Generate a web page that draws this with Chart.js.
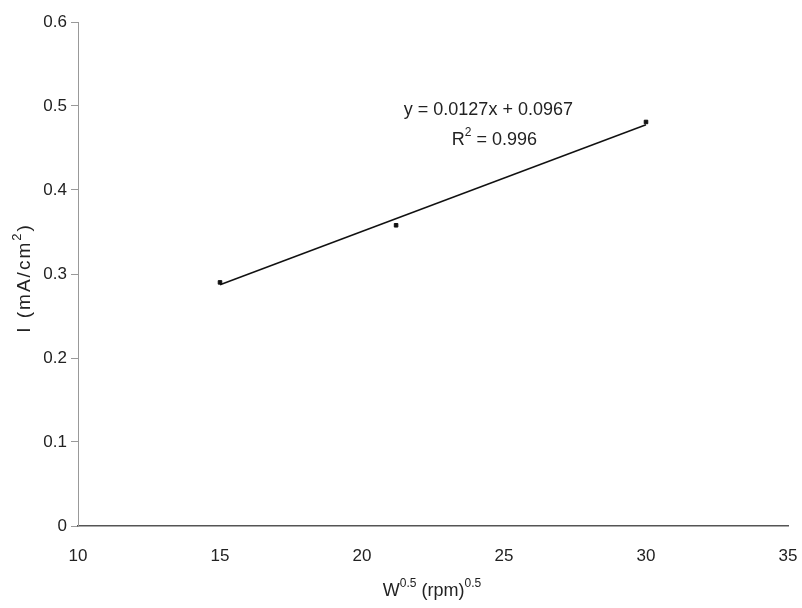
<!DOCTYPE html>
<html>
<head>
<meta charset="utf-8">
<script src="https://cdn.jsdelivr.net/npm/chart.js@4/dist/chart.umd.min.js"></script>
<style>
  html, body { margin: 0; padding: 0; background: #fff; }
  #wrap { width: 802px; height: 608px; position: relative; }
</style>
</head>
<body>
<div id="wrap"><canvas id="chart"></canvas></div>
<script>
// data
const rotSpeed = [15, 21.2, 30];          // W^0.5 (rpm)^0.5
const currentI = [0.29, 0.358, 0.481];    // I (mA/cm2)
const trendX = [15, 30];                  // ends of the linear fit
const trendY = [0.2872, 0.4777];
const xTickValues = [10, 15, 20, 25, 30, 35];
const yTickValues = [0, 0.1, 0.2, 0.3, 0.4, 0.5, 0.6];

const fitText = [
  [{ t: 'y = 0.0127x + 0.0967' }],
  [{ t: 'R' }, { t: '2', sup: true }, { t: ' = 0.996' }]
];
const xTitle = [{ t: 'W' }, { t: '0.5', sup: true }, { t: ' (rpm)' }, { t: '0.5', sup: true }];
const yTitle = [{ t: 'I (mA/cm' }, { t: '2', sup: true }, { t: ')' }];

const FONT = '"Liberation Sans", Arial, sans-serif';
const TEXT = '#222';

// draws text with superscripts, centred on (x, y)
function drawRich(ctx, parts, x, y, size, spacing) {
  const supSize = Math.round(size * 0.66);
  ctx.letterSpacing = (spacing || 0) + 'px';
  let total = 0;
  parts.forEach(p => {
    ctx.font = (p.sup ? supSize : size) + 'px ' + FONT;
    p.w = ctx.measureText(p.t).width;
    total += p.w;
  });
  let cx = x - total / 2;
  ctx.textAlign = 'left';
  ctx.textBaseline = 'middle';
  parts.forEach(p => {
    ctx.font = (p.sup ? supSize : size) + 'px ' + FONT;
    ctx.fillText(p.t, cx, p.sup ? y - size * 0.38 : y);
    cx += p.w;
  });
  ctx.letterSpacing = '0px';
}

const textPlugin = {
  id: 'textPlugin',
  afterDraw(chart) {
    const ctx = chart.ctx;
    const xs = chart.scales.x, ys = chart.scales.y;
    ctx.save();
    ctx.fillStyle = TEXT;
    // fit equation
    const ex = xs.getPixelForValue(24.45);
    drawRich(ctx, fitText[0], ex, ys.getPixelForValue(0.495), 18);
    drawRich(ctx, fitText[1], ex + 6, ys.getPixelForValue(0.46), 18);
    // x title
    drawRich(ctx, xTitle, 432, 591, 18);
    // y title
    ctx.save();
    ctx.translate(25, 278);
    ctx.rotate(-Math.PI / 2);
    drawRich(ctx, yTitle, 0, 0, 19, 2);
    ctx.restore();
    ctx.restore();
  }
};

new Chart(document.getElementById('chart'), {
  type: 'scatter',
  data: {
    datasets: [
      {
        label: 'trend',
        data: trendX.map((x, i) => ({ x: x, y: trendY[i] })),
        showLine: true,
        borderColor: '#111',
        borderWidth: 1.5,
        pointRadius: 0
      },
      {
        label: 'I',
        data: rotSpeed.map((x, i) => ({ x: x, y: currentI[i] })),
        backgroundColor: '#111',
        borderColor: '#111',
        pointRadius: 2.5,
        pointStyle: 'rect'
      }
    ]
  },
  options: {
    responsive: true,
    maintainAspectRatio: false,
    animation: false,
    layout: { padding: { left: 0, right: 14, top: 22, bottom: 0 } },
    plugins: {
      legend: { display: false },
      tooltip: { enabled: false }
    },
    scales: {
      x: {
        type: 'linear',
        min: 10,
        max: 35,
        afterBuildTicks: s => { s.ticks = xTickValues.map(v => ({ value: v })); },
        afterFit: s => { s.height = 82; s.paddingLeft = 0; s.paddingRight = 0; },
        grid: { display: false, drawTicks: false },
        border: { display: true, color: '#555', width: 1.5 },
        ticks: {
          padding: 20,
          maxRotation: 0,
          autoSkip: false,
          color: TEXT,
          font: { family: FONT, size: 17 }
        }
      },
      y: {
        min: 0,
        max: 0.6,
        afterBuildTicks: s => { s.ticks = yTickValues.map(v => ({ value: v })); },
        afterFit: s => { s.width = 78; s.paddingTop = 0; s.paddingBottom = 0; },
        grid: { drawOnChartArea: false, drawTicks: true, tickLength: 7, color: '#999' },
        border: { display: true, color: '#999', width: 1 },
        ticks: {
          padding: 4,
          autoSkip: false,
          color: TEXT,
          font: { family: FONT, size: 17 },
          callback: v => v === 0 ? '0' : v.toFixed(1)
        }
      }
    }
  },
  plugins: [textPlugin]
});
</script>
</body>
</html>
